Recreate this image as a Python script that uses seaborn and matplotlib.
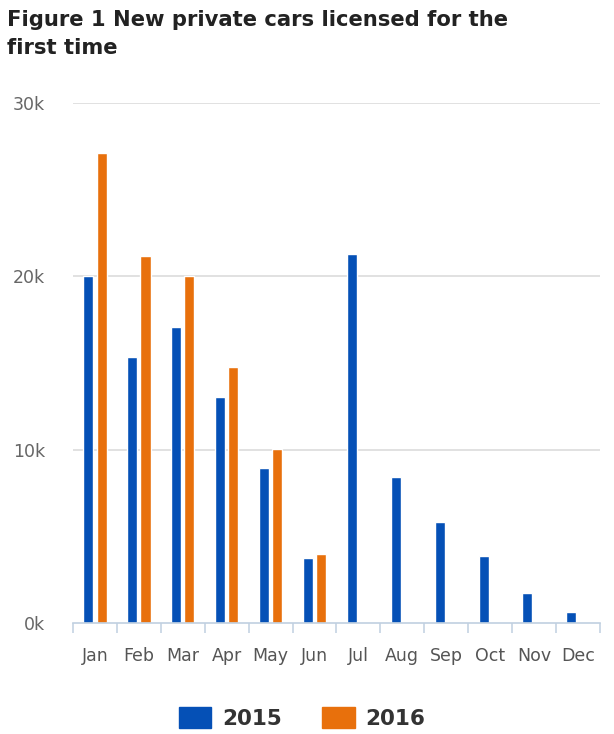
import numpy as np
import pandas as pd
import matplotlib
matplotlib.use("Agg")
import matplotlib.pyplot as plt
import seaborn as sns

months = ["Jan", "Feb", "Mar", "Apr", "May", "Jun",
          "Jul", "Aug", "Sep", "Oct", "Nov", "Dec"]
cars_2015 = [20000, 15340, 17050, 13040, 8920, 3770,
             21260, 8440, 5830, 3860, 1720, 670]
cars_2016 = [27100, 21160, 20000, 14760, 10040, 4000,
             np.nan, np.nan, np.nan, np.nan, np.nan, np.nan]
series = ["2015", "2016"]
yticks = [0, 10000, 20000, 30000]
ytick_labels = ["0k", "10k", "20k", "30k"]

df = pd.DataFrame({
    "month": months * 2,
    "year": [series[0]] * 12 + [series[1]] * 12,
    "cars": cars_2015 + cars_2016,
})

sns.set_theme(style="white")
plt.rcParams["font.family"] = ["DejaVu Sans"]

fig = plt.figure(figsize=(6.14, 7.34), dpi=100)
ax = fig.add_axes([0.119, 0.151, 0.858, 0.709])

palette = {"2015": "#0550B6", "2016": "#E8700C"}
sns.barplot(data=df, x="month", y="cars", hue="year", order=months,
            hue_order=series, palette=palette, width=0.6, gap=0.24,
            saturation=1, ax=ax, legend=True)

ax.set_xlim(-0.5, 11.5)
ax.set_ylim(0, 30000)
ax.set_yticks(yticks)
ax.set_yticklabels(ytick_labels)
ax.set_xlabel("")
ax.set_ylabel("")

for y in yticks[1:]:
    ax.axhline(y, color="#D8D8D8", lw=1.1, zorder=0)

for s in ["top", "right", "left"]:
    ax.spines[s].set_visible(False)
ax.spines["bottom"].set_color("#C0D0E0")
ax.spines["bottom"].set_linewidth(1.2)

ax.tick_params(axis="y", length=0, pad=20, labelsize=12.5, labelcolor="#666666")
ax.tick_params(axis="x", which="major", length=0, pad=17, labelsize=12.5,
               labelcolor="#555555")
ax.set_xticks(np.arange(-0.5, 12, 1), minor=True)
ax.tick_params(axis="x", which="minor", length=7.5, width=1.1,
               color="#C0D0E0", direction="out", bottom=True)
for lab in ax.get_yticklabels():
    lab.set_horizontalalignment("right")

fig.text(0.011, 0.986, "Figure 1 New private cars licensed for the\nfirst time",
         fontsize=15.2, fontweight="bold", color="#222222", va="top",
         ha="left", linespacing=1.5)

ax.get_legend().remove()
handles = [plt.Rectangle((0, 0), 1, 1, color=palette[s]) for s in series]
fig.legend(handles, series, loc="center", bbox_to_anchor=(0.492, 0.022),
           ncol=2, frameon=False, handlelength=1.5, handleheight=1.15,
           handletextpad=0.5, columnspacing=1.9,
           prop={"weight": "bold", "size": 15.5})
for t in fig.legends[0].get_texts():
    t.set_color("#333333")

fig.savefig("out.png", dpi=100)
